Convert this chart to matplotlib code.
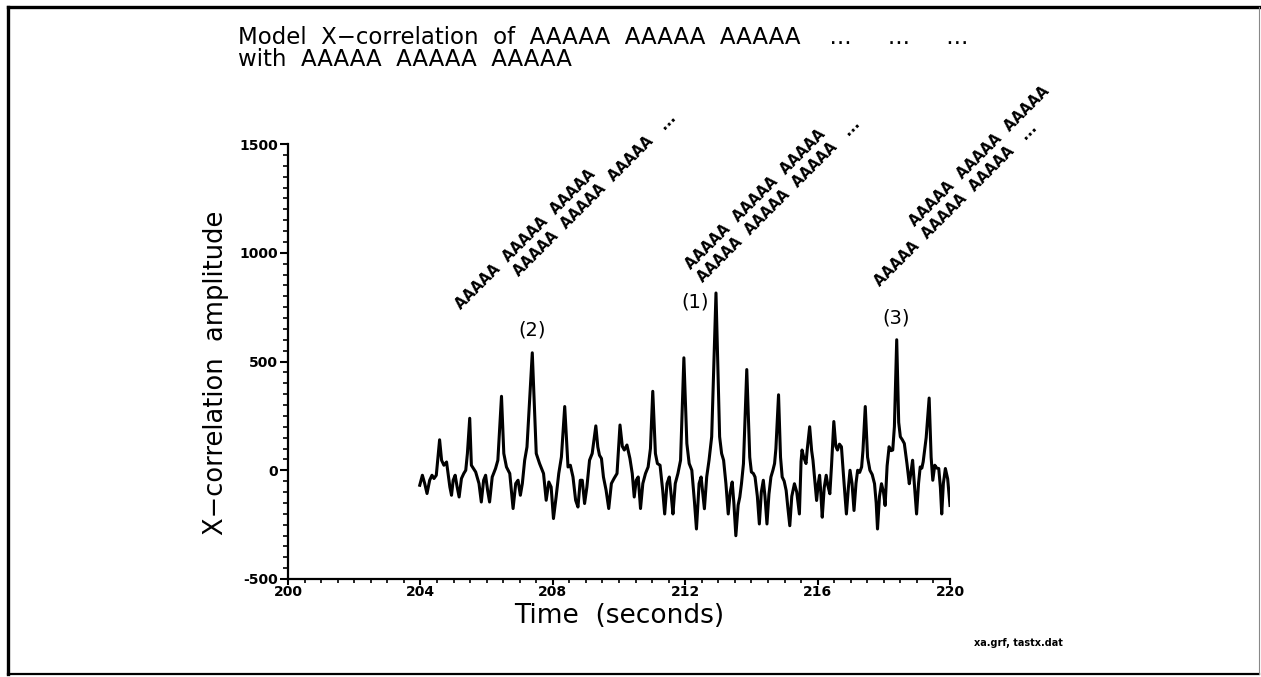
import matplotlib
matplotlib.use("Agg")
from matplotlib import pyplot as plt
from matplotlib.lines import Line2D
from matplotlib.ticker import MultipleLocator


# values
time_s = [203.98, 204.06, 204.13, 204.20, 204.28, 204.35, 204.41, 204.48, 204.58, 204.64,
          204.71, 204.79, 204.89, 204.94, 204.99, 205.05, 205.11, 205.17, 205.24, 205.31,
          205.37, 205.42, 205.49, 205.54, 205.67, 205.77, 205.84, 205.91, 205.97, 206.03,
          206.09, 206.17, 206.27, 206.34, 206.45, 206.52, 206.60, 206.70, 206.80, 206.88,
          206.95, 207.02, 207.08, 207.15, 207.22, 207.38, 207.50, 207.60, 207.72, 207.80,
          207.88, 207.95, 208.02, 208.10, 208.18, 208.26, 208.36, 208.46, 208.53, 208.61,
          208.69, 208.76, 208.83, 208.89, 208.96, 209.03, 209.11, 209.19, 209.30, 209.36,
          209.41, 209.47, 209.53, 209.61, 209.69, 209.77, 209.85, 209.94, 210.03, 210.10,
          210.16, 210.24, 210.33, 210.40, 210.46, 210.52, 210.58, 210.65, 210.72, 210.80,
          210.88, 210.95, 211.02, 211.10, 211.16, 211.24, 211.32, 211.38, 211.45, 211.52,
          211.58, 211.63, 211.70, 211.78, 211.86, 211.96, 212.05, 212.12, 212.20, 212.28,
          212.34, 212.42, 212.48, 212.54, 212.58, 212.65, 212.72, 212.80, 212.93, 213.04,
          213.10, 213.16, 213.23, 213.30, 213.36, 213.42, 213.47, 213.53, 213.60, 213.65,
          213.70, 213.76, 213.86, 213.95, 214.00, 214.06, 214.11, 214.18, 214.24, 214.30,
          214.36, 214.41, 214.47, 214.53, 214.59, 214.65, 214.70, 214.74, 214.82, 214.88,
          214.93, 214.99, 215.05, 215.10, 215.16, 215.22, 215.30, 215.37, 215.45, 215.50,
          215.53, 215.58, 215.65, 215.69, 215.76, 215.82, 215.86, 215.91, 215.97, 216.02,
          216.06, 216.10, 216.14, 216.20, 216.26, 216.31, 216.37, 216.42, 216.49, 216.55,
          216.60, 216.66, 216.72, 216.79, 216.87, 216.93, 216.98, 217.04, 217.10, 217.16,
          217.21, 217.27, 217.33, 217.37, 217.44, 217.51, 217.58, 217.65, 217.72, 217.77,
          217.81, 217.87, 217.93, 217.99, 218.04, 218.10, 218.16, 218.22, 218.27, 218.32,
          218.39, 218.45, 218.50, 218.56, 218.62, 218.70, 218.77, 218.82, 218.87, 218.93,
          218.99, 219.05, 219.10, 219.15, 219.19, 219.28, 219.37, 219.43, 219.48, 219.51,
          219.54, 219.60, 219.66, 219.71, 219.75, 219.80, 219.86, 219.93, 220.00]
amplitude = [-69, -23, -61, -107, -46, -23, -38, -23, 140, 46,
             23, 38, -77, -115, -46, -23, -77, -123, -38, -15,
             0, 77, 239, 23, -8, -61, -146, -46, -23, -92,
             -146, -31, 8, 46, 340, 77, 15, -15, -176, -61,
             -46, -115, -61, 46, 107, 540, 77, 31, -15, -138,
             -54, -77, -222, -123, -15, 61, 293, 15, 23, -31,
             -138, -169, -46, -46, -153, -77, 46, 77, 204, 107,
             69, 54, -31, -92, -176, -61, -38, -15, 208, 110,
             93, 116, 54, -15, -123, -46, -31, -176, -61, -15,
             15, 100, 363, 77, 31, 23, -92, -201, -61, -31,
             -120, -201, -61, -15, 46, 517, 123, 31, 0, -146,
             -270, -61, -31, -120, -177, -30, 46, 154, 815, 154,
             77, 46, -61, -201, -100, -54, -150, -301, -160, -123,
             -62, 30, 463, 60, -8, -15, -31, -120, -247, -100,
             -46, -120, -247, -110, -31, 0, 31, 100, 347, 60,
             -31, -50, -93, -170, -255, -120, -62, -100, -201, 40,
             93, 60, 31, 100, 200, 90, 46, -40, -139, -60,
             -23, -110, -216, -80, -23, -70, -108, 20, 224, 110,
             93, 120, 108, -40, -201, -80, 0, -60, -185, -60,
             0, -10, 15, 90, 293, 60, 0, -20, -62, -150,
             -270, -120, -62, -100, -162, 20, 108, 90, 93, 200,
             600, 220, 154, 140, 123, 30, -62, -10, 46, -80,
             -201, -60, 15, 10, 39, 150, 332, 60, -46, -10,
             23, 10, 8, -80, -201, -60, 8, -40, -162]

peak_names = ["(2)", "(1)", "(3)"]
peak_label_x = [207.37, 212.30, 218.37]
peak_label_y = [644, 772, 699]

# diagonal sequence labels, one entry per text line
seq_text = ["AAAAA  AAAAA  AAAAA",
            "AAAAA  AAAAA  AAAAA   ...",
            "AAAAA  AAAAA  AAAAA",
            "AAAAA  AAAAA  AAAAA   ...",
            "AAAAA  AAAAA  AAAAA",
            "AAAAA  AAAAA  AAAAA   ..."]
seq_x = [205.23, 206.98, 212.18, 212.54, 218.94, 217.89]
seq_y = [736, 887, 920, 860, 1117, 841]

title = ("Model  X\u2212correlation  of  AAAAA  AAAAA  AAAAA    ...     ...     ...\n"
         "with  AAAAA  AAAAA  AAAAA")
x_label = "Time  (seconds)"
y_label = "X\u2212correlation  amplitude"
file_note = "xa.grf, tastx.dat"

plt.rcParams["axes.unicode_minus"] = False

fig = plt.figure(figsize=(12.61, 6.77), dpi=100)

# page frame: heavy on left/top/bottom, faint on the right
W, H = 1261.0, 677.0
fx0, fx1 = 8 / W, 1259 / W
fy0, fy1 = 1 - 674 / H, 1 - 7 / H
fig.add_artist(Line2D([fx0, fx0], [fy0, fy1], transform=fig.transFigure, color="black", lw=2.4))
fig.add_artist(Line2D([fx0, fx1], [fy1, fy1], transform=fig.transFigure, color="black", lw=2.4))
fig.add_artist(Line2D([fx0, fx1], [fy0, fy0], transform=fig.transFigure, color="black", lw=1.6))
fig.add_artist(Line2D([fx1, fx1], [fy0, fy1], transform=fig.transFigure, color="#888888", lw=0.8))

ax = fig.add_axes([288 / W, 1 - 579 / H, 662 / W, 435 / H])
ax.plot(time_s, amplitude, color="black", linewidth=2.2)

ax.set_xlim(200, 220)
ax.set_ylim(-500, 1500)
ax.spines["top"].set_visible(False)
ax.spines["right"].set_visible(False)
ax.spines["left"].set_linewidth(1.6)
ax.spines["bottom"].set_linewidth(1.6)
ax.xaxis.set_major_locator(MultipleLocator(4))
ax.xaxis.set_minor_locator(MultipleLocator(0.5))
ax.yaxis.set_major_locator(MultipleLocator(500))
ax.yaxis.set_minor_locator(MultipleLocator(50))
ax.tick_params(axis="x", which="major", direction="out", length=4.3, width=1.5, labelsize=10, pad=0.3)
ax.tick_params(axis="x", which="minor", direction="out", length=3.0, width=1.2)
ax.tick_params(axis="y", which="major", direction="out", length=5.8, width=1.5, labelsize=10, pad=1.5)
ax.tick_params(axis="y", which="minor", direction="out", length=3.6, width=1.2)
for lab in ax.get_xticklabels() + ax.get_yticklabels():
    lab.set_fontweight("bold")

ax.set_xlabel(x_label, fontsize=19)
ax.set_ylabel(y_label, fontsize=18.5)
ax.xaxis.set_label_coords(0.5, -0.056)
ax.yaxis.set_label_coords(-0.089, 0.475)

for name, px, py in zip(peak_names, peak_label_x, peak_label_y):
    ax.text(px, py, name, fontsize=14, ha="center", va="center")

for s, sx, sy in zip(seq_text, seq_x, seq_y):
    ax.text(sx, sy, s, fontsize=10.5, fontweight="bold", rotation=45,
            rotation_mode="anchor", ha="left", va="baseline", clip_on=False)

fig.text(238 / W, 1 - 71.5 / H, title, fontsize=16.5, ha="left", va="bottom", linespacing=0.95)
fig.text(1018 / W, 1 - 643.5 / H, file_note, fontsize=7, fontweight="bold", ha="center", va="center")

fig.savefig("out.png", dpi=100)
